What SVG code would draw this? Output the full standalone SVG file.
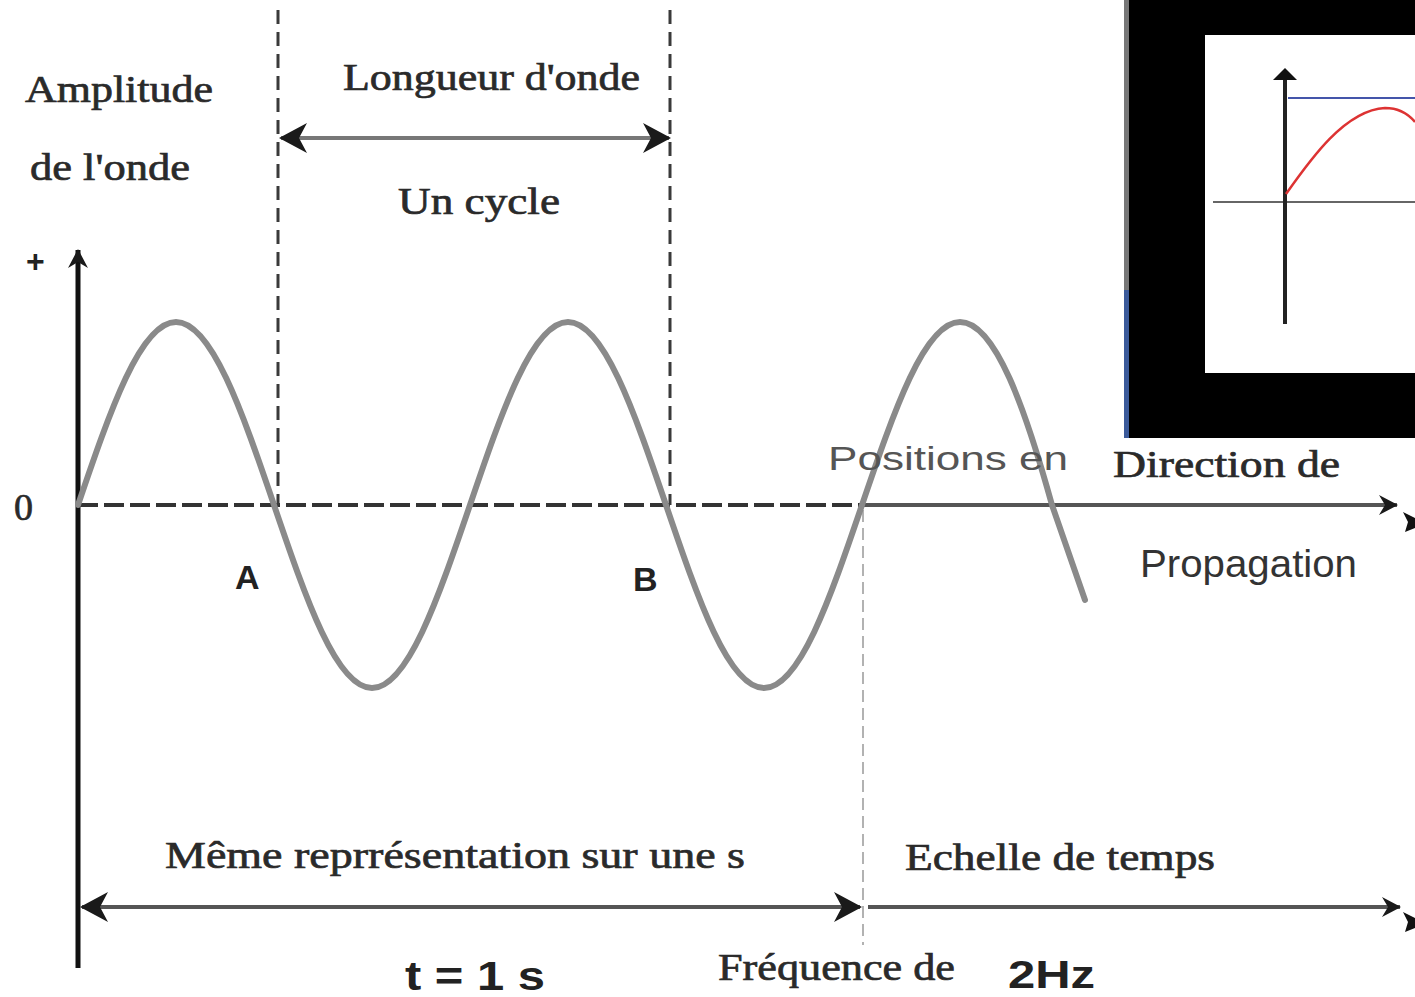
<svg xmlns="http://www.w3.org/2000/svg" width="1415" height="997" viewBox="0 0 1415 997">
<style>
.serif{font-family:"Liberation Serif","DejaVu Serif",serif;fill:#2a2a2a;stroke:#2a2a2a;stroke-width:0.7;font-size:38px}
.sans{font-family:"Liberation Sans","DejaVu Sans",sans-serif;fill:#222}
.bold{font-weight:bold}
.vdash{stroke:#3a3a3a;stroke-width:3;stroke-dasharray:14 8;fill:none}
.wave{stroke:#8a8a8a;stroke-width:6;fill:none;stroke-linecap:round}
.dim{stroke:#555;stroke-width:4;fill:none}
</style>
<defs>
<marker id="ah" markerUnits="userSpaceOnUse" markerWidth="30" markerHeight="34" refX="26" refY="17" orient="auto-start-reverse" viewBox="0 0 30 34">
<path d="M0,2 L28,17 L0,32 L8,17 Z" fill="#1a1a1a"/>
</marker>
<marker id="ahs" markerUnits="userSpaceOnUse" markerWidth="20" markerHeight="22" refX="18" refY="11" orient="auto-start-reverse" viewBox="0 0 20 22">
<path d="M0,1 L19,11 L0,21 L6,11 Z" fill="#1a1a1a"/>
</marker>
</defs>
<rect width="1415" height="997" fill="#ffffff"/>

<g id="connectors">
<line x1="78" y1="250" x2="78" y2="968" stroke="#111" stroke-width="5" marker-start="url(#ahs)"/>
<line x1="78" y1="505" x2="862" y2="505" stroke="#333" stroke-width="4" stroke-dasharray="20 6"/>
<line x1="862" y1="505" x2="1397" y2="505" class="dim" marker-end="url(#ahs)"/>
<line x1="278" y1="10" x2="278" y2="505" class="vdash"/>
<line x1="670" y1="10" x2="670" y2="505" class="vdash"/>
<line x1="281" y1="138" x2="669" y2="138" stroke="#777" stroke-width="4" marker-start="url(#ah)" marker-end="url(#ah)"/>
<line x1="863" y1="510" x2="863" y2="945" stroke="#999" stroke-width="1.5" stroke-dasharray="12 6"/>
<line x1="82" y1="907" x2="860" y2="907" class="dim" marker-start="url(#ah)" marker-end="url(#ah)"/>
<line x1="868" y1="907" x2="1400" y2="907" class="dim" marker-end="url(#ahs)"/>
<path d="M1403,512 L1415,518 L1415,528 L1405,532 L1408,522 Z" fill="#111"/>
<path d="M1403,912 L1415,918 L1415,928 L1405,932 L1408,922 Z" fill="#111"/>
</g>

<g id="wave">
<path class="wave" d="M78,505 c32,-94 62.5,-183 98,-183 c35.5,0 66,89.25 98,183 c32,94 62.5,183 98,183 c35.5,0 66,-89.25 98,-183 c32,-94 62.5,-183 98,-183 c35.5,0 66,89.25 98,183 c32,94 62.5,183 98,183 c35.5,0 66,-89.25 98,-183 c32,-94 62.5,-183 98,-183 c35.5,0 66,89.25 92,183 L1085,600"/>
</g>

<g id="inset">
<rect x="1125" y="0" width="290" height="438" fill="#000"/>
<rect x="1124" y="0" width="5" height="290" fill="#777"/>
<rect x="1124" y="290" width="5" height="148" fill="#3b5a9a"/>
<rect x="1205" y="35" width="210" height="338" fill="#fff"/>
<line x1="1213" y1="202" x2="1415" y2="202" stroke="#666" stroke-width="2"/>
<line x1="1288" y1="98" x2="1415" y2="98" stroke="#4455aa" stroke-width="2"/>
<line x1="1285" y1="80" x2="1285" y2="324" stroke="#222" stroke-width="4"/>
<path d="M1273,80 L1285,68 L1297,80 Z" fill="#111"/>
<path d="M1286,194 C1310,160 1345,110 1385,108 C1400,108 1410,116 1415,122" stroke="#dd3333" stroke-width="2.5" fill="none"/>
</g>

<g id="labels">
<text class="serif" x="25" y="102" textLength="188" lengthAdjust="spacingAndGlyphs">Amplitude</text>
<text class="serif" x="30" y="180" textLength="160" lengthAdjust="spacingAndGlyphs">de l'onde</text>
<text class="serif" x="343" y="90" textLength="297" lengthAdjust="spacingAndGlyphs">Longueur d'onde</text>
<text class="serif" x="398" y="214" textLength="162" lengthAdjust="spacingAndGlyphs">Un cycle</text>
<text class="sans bold" x="26" y="272" font-size="32">+</text>
<text class="serif" x="14" y="520" font-size="40">0</text>
<text class="sans bold" x="235" y="589" font-size="34">A</text>
<text class="sans bold" x="633" y="591" font-size="34">B</text>
<text class="sans" x="828" y="470" font-size="34" style="fill:#555" textLength="240" lengthAdjust="spacingAndGlyphs">Positions en</text>
<text class="serif" x="1113" y="477" textLength="227" lengthAdjust="spacingAndGlyphs">Direction de</text>
<text class="sans" x="1140" y="577" font-size="38" style="fill:#333" textLength="217" lengthAdjust="spacingAndGlyphs">Propagation</text>
<text class="serif" x="165" y="868" textLength="580" lengthAdjust="spacingAndGlyphs">Même reprrésentation sur une s</text>
<text class="serif" x="905" y="870" textLength="310" lengthAdjust="spacingAndGlyphs">Echelle de temps</text>
<text class="sans bold" x="405" y="990" font-size="40" textLength="140" lengthAdjust="spacingAndGlyphs">t = 1 s</text>
<text class="serif" x="718" y="980" textLength="237" lengthAdjust="spacingAndGlyphs">Fréquence de</text>
<text class="sans bold" x="1008" y="988" font-size="38" textLength="87" lengthAdjust="spacingAndGlyphs">2Hz</text>
</g>
</svg>
